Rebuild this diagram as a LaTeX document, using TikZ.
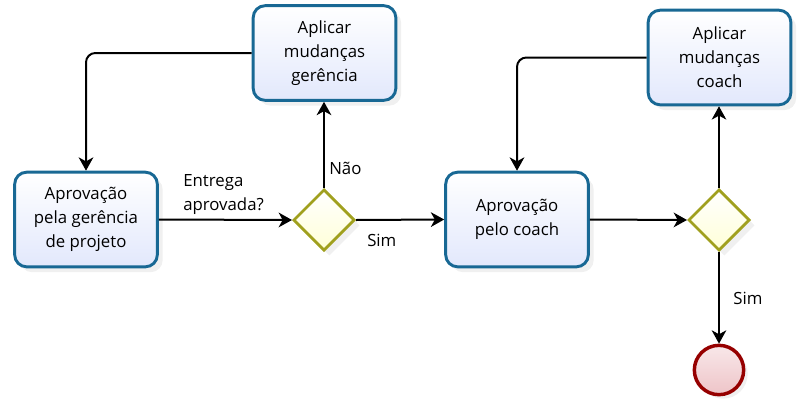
\documentclass[tikz,border=0pt]{standalone}
\usepackage{fontspec}
\setmainfont{Open Sans}
\usepackage{xcolor}
\usetikzlibrary{arrows.meta,shapes.geometric,shadows}

\definecolor{taskline}{RGB}{24,104,148}
\definecolor{taskfill}{RGB}{226,232,252}
\definecolor{gateline}{RGB}{160,160,30}
\definecolor{gatefill}{RGB}{255,255,215}
\definecolor{endline}{RGB}{150,0,0}
\definecolor{endfill}{RGB}{238,196,200}

\begin{document}
\begin{tikzpicture}[
  x=0.75pt,y=-0.75pt,
  font=\fontsize{12.6}{18}\selectfont,
  task/.style={draw=taskline,line width=2.2pt,rounded corners=9pt,
               top color=white,bottom color=taskfill,align=center,
               minimum width=107pt,minimum height=71pt,inner sep=2pt,
               drop shadow={opacity=0.12,shadow xshift=4pt,shadow yshift=-4pt}},
  gate/.style={diamond,draw=gateline,line width=2pt,aspect=1,
               top color=white,bottom color=gatefill,inner sep=0pt,
               minimum width=46pt,minimum height=46pt,
               drop shadow={opacity=0.12,shadow xshift=4pt,shadow yshift=-4pt}},
  stopev/.style={circle,draw=endline,line width=2.6pt,
                 top color=white!60!endfill,bottom color=endfill,inner sep=0pt,
                 minimum size=37pt,
                 drop shadow={opacity=0.12,shadow xshift=3pt,shadow yshift=-3pt}},
  flow/.style={-{Stealth[length=10pt,width=11pt,inset=3pt]},line width=1.5pt,rounded corners=7pt},
  thinflow/.style={flow,line width=0.8pt},
  lbl/.style={anchor=west,align=left,inner sep=0pt}
]
\useasboundingbox (0,0) rectangle (802,400);

\node[task] (gerapr) at (86,219.5) {Aprovação\\pela gerência\\de projeto};
\node[task] (germud) at (324.5,53) {Aplicar\\mudanças\\gerência};
\node[gate] (gate1) at (324,220) {};
\node[task] (coaapr) at (517,219.5) {Aprovação\\pelo coach};
\node[task] (coamud) at (719.5,57.5) {Aplicar\\mudanças\\coach};
\node[gate] (gate2) at (719,220) {};
\node[stopev] (fim) at (719,370) {};

\draw[flow] (germud.west) -| (gerapr.north);
\draw[flow] (gerapr.east) -- (gate1.west);
\draw[flow] (gate1.north) -- (gate1.north |- germud.south);
\draw[flow] (gate1.east) -- (coaapr.west);
\draw[flow] (coamud.west) -| (coaapr.north);
\draw[flow] (coaapr.east) -- (gate2.west);
\draw[thinflow] (gate2.north) -- (gate2.north |- coamud.south);
\draw[thinflow] (gate2.south) -- (fim.north);

\node[lbl] (lentrega) at (183,195) {Entrega\\aprovada?};
\node[lbl] (lnao) at (329,168) {Não};
\node[lbl] (lsim1) at (367,240) {Sim};
\node[lbl] (lsim2) at (733,298) {Sim};
\end{tikzpicture}
\end{document}
